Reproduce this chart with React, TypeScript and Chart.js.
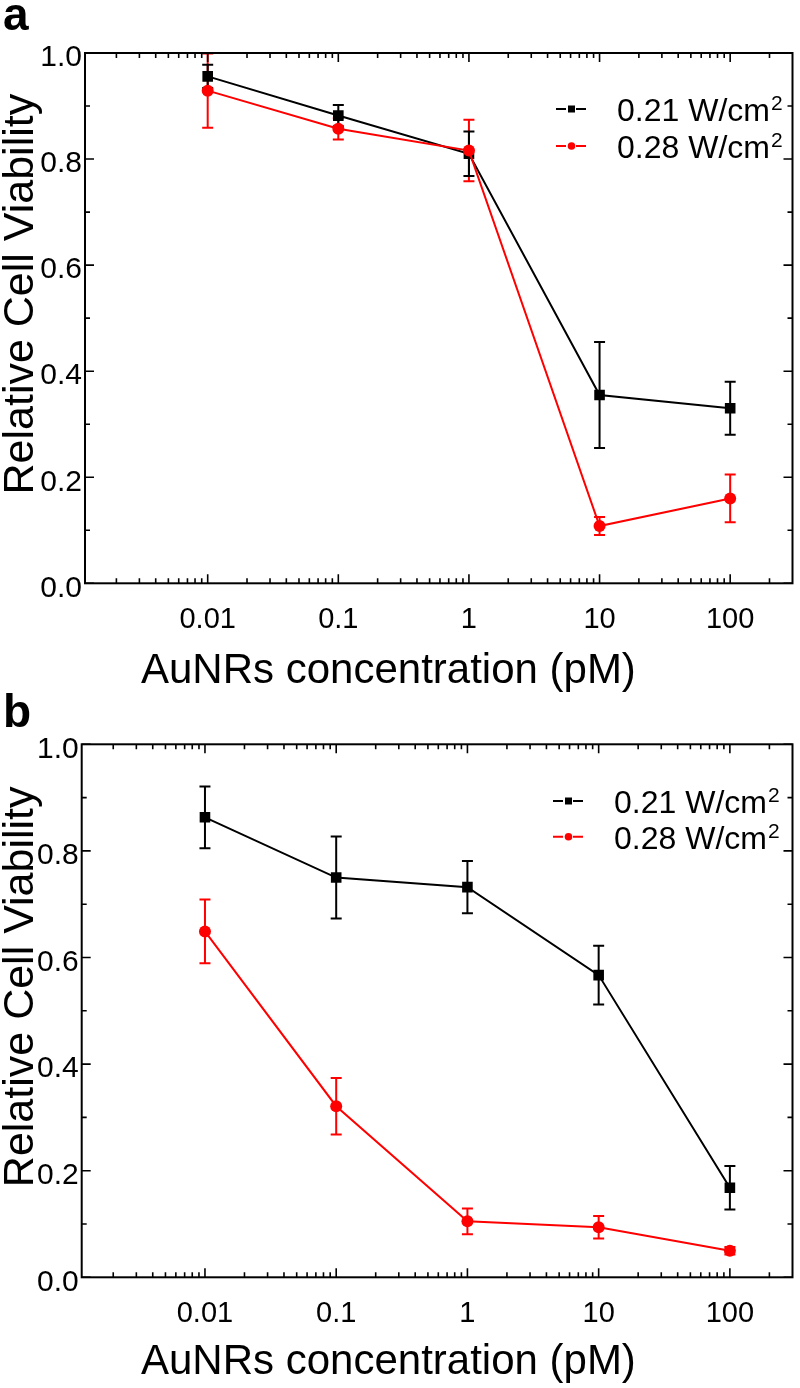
import React, { useEffect, useRef } from 'react';
import { Chart, registerables } from 'chart.js';

Chart.register(...registerables);

// ---- data ----
const concentrations = [0.01, 0.1, 1, 10, 100];
const xTickValues = [0.01, 0.1, 1, 10, 100];
const xTickLabels = ['0.01', '0.1', '1', '10', '100'];
const yTickValues = [0, 0.2, 0.4, 0.6, 0.8, 1.0];
const yTickLabels = ['0.0', '0.2', '0.4', '0.6', '0.8', '1.0'];
const yMinorTicks = [0.1, 0.3, 0.5, 0.7, 0.9];
const seriesLabels = ['0.21 W/cm²', '0.28 W/cm²'];
const seriesColors = ['#000000', '#ff0000'];
const seriesPointStyles = ['rect', 'circle'];
const xTitle = 'AuNRs concentration (pM)';
const yTitle = 'Relative Cell Viability';

const panelALow = [0.956, 0.882, 0.81, 0.355, 0.33];
const panelALowErr = [0.022, 0.02, 0.042, 0.1, 0.05];
const panelAHigh = [0.929, 0.857, 0.816, 0.108, 0.16];
const panelAHighErr = [0.07, 0.02, 0.058, 0.017, 0.045];

const panelBLow = [0.863, 0.75, 0.732, 0.567, 0.168];
const panelBLowErr = [0.058, 0.077, 0.049, 0.055, 0.041];
const panelBHigh = [0.649, 0.321, 0.105, 0.094, 0.05];
const panelBHighErr = [0.06, 0.053, 0.024, 0.021, 0.007];

const X_MIN = 0.00115;
const X_MAX = 300;
const FONT = '"Liberation Sans", Arial, sans-serif';

function minorLogTicks(): number[] {
  const out: number[] = [];
  for (let e = -3; e <= 2; e++) {
    for (let k = 2; k <= 9; k++) {
      const v = k * Math.pow(10, e);
      if (v > X_MIN && v < X_MAX) out.push(v);
    }
  }
  return out;
}

type PanelCfg = {
  letter: string;
  height: number;
  top: number;
  right: number;
  yWidth: number;
  xHeight: number;
  low: number[];
  lowErr: number[];
  high: number[];
  highErr: number[];
  legendY: number[];
  legendX: number;
  titleBaseline: number;
  letterBaseline: number;
};

const panelPlugin = {
  id: 'panelDecor',
  beforeDatasetsDraw(chart: any) {
    const ctx = chart.ctx;
    const xs = chart.scales.x;
    const ys = chart.scales.y;
    const order = [1, 0];
    ctx.save();
    order.forEach((di) => {
      const ds = chart.data.datasets[di];
      const errs: number[] = ds.errors;
      ctx.strokeStyle = ds.borderColor;
      ctx.lineWidth = 2;
      ds.data.forEach((p: any, i: number) => {
        const px = xs.getPixelForValue(p.x);
        const yTop = ys.getPixelForValue(p.y + errs[i]);
        const yBot = ys.getPixelForValue(p.y - errs[i]);
        ctx.beginPath();
        ctx.moveTo(px, yTop);
        ctx.lineTo(px, yBot);
        ctx.moveTo(px - 5.5, yTop);
        ctx.lineTo(px + 5.5, yTop);
        ctx.moveTo(px - 5.5, yBot);
        ctx.lineTo(px + 5.5, yBot);
        ctx.stroke();
      });
    });
    ctx.restore();
  },
  afterDraw(chart: any) {
    const ctx = chart.ctx;
    const ca = chart.chartArea;
    const xs = chart.scales.x;
    const ys = chart.scales.y;
    const cfg: PanelCfg = chart.options.plugins.panelDecor.cfg;
    ctx.save();
    // frame
    ctx.strokeStyle = '#000';
    ctx.lineWidth = 2;
    ctx.strokeRect(ca.left, ca.top, ca.right - ca.left, ca.bottom - ca.top);
    // ticks
    ctx.lineWidth = 1.6;
    ctx.beginPath();
    const majorLen = 9;
    const minorLen = 5;
    xs.ticks.forEach((t: any) => {
      const px = xs.getPixelForValue(t.value);
      ctx.moveTo(px, ca.bottom);
      ctx.lineTo(px, ca.bottom - majorLen);
      ctx.moveTo(px, ca.top);
      ctx.lineTo(px, ca.top + majorLen);
    });
    minorLogTicks().forEach((v) => {
      const px = xs.getPixelForValue(v);
      ctx.moveTo(px, ca.bottom);
      ctx.lineTo(px, ca.bottom - minorLen);
      ctx.moveTo(px, ca.top);
      ctx.lineTo(px, ca.top + minorLen);
    });
    ys.ticks.forEach((t: any) => {
      const py = ys.getPixelForValue(t.value);
      ctx.moveTo(ca.left, py);
      ctx.lineTo(ca.left + majorLen, py);
      ctx.moveTo(ca.right, py);
      ctx.lineTo(ca.right - majorLen, py);
    });
    yMinorTicks.forEach((v) => {
      const py = ys.getPixelForValue(v);
      ctx.moveTo(ca.left, py);
      ctx.lineTo(ca.left + minorLen, py);
      ctx.moveTo(ca.right, py);
      ctx.lineTo(ca.right - minorLen, py);
    });
    ctx.stroke();

    // legend
    chart.data.datasets.forEach((ds: any, i: number) => {
      const ly = cfg.legendY[i];
      const lx = cfg.legendX;
      ctx.strokeStyle = ds.borderColor;
      ctx.fillStyle = ds.borderColor;
      ctx.lineWidth = 2;
      ctx.beginPath();
      ctx.moveTo(lx, ly);
      ctx.lineTo(lx + 10, ly);
      ctx.moveTo(lx + 20, ly);
      ctx.lineTo(lx + 30, ly);
      ctx.stroke();
      if (ds.pointStyle === 'rect') {
        ctx.fillRect(lx + 12, ly - 3.5, 7, 7);
      } else {
        ctx.beginPath();
        ctx.arc(lx + 15.5, ly, 3.8, 0, Math.PI * 2);
        ctx.fill();
      }
      ctx.fillStyle = '#000';
      ctx.textAlign = 'left';
      ctx.textBaseline = 'alphabetic';
      const parts = String(ds.label).split('²');
      ctx.font = `32px ${FONT}`;
      const tx = lx + 61;
      const tb = ly + 12;
      ctx.fillText(parts[0], tx, tb);
      if (parts.length > 1) {
        const w = ctx.measureText(parts[0]).width;
        ctx.font = `21px ${FONT}`;
        ctx.fillText('2', tx + w + 1, tb - 11);
      }
    });

    // axis titles
    ctx.fillStyle = '#000';
    ctx.font = `42px ${FONT}`;
    ctx.textAlign = 'left';
    ctx.textBaseline = 'alphabetic';
    ctx.fillText(xTitle, 141, cfg.titleBaseline);

    ctx.save();
    ctx.font = `43px ${FONT}`;
    ctx.translate(33, (ca.top + ca.bottom) / 2 - 24);
    ctx.rotate(-Math.PI / 2);
    ctx.textAlign = 'center';
    ctx.textBaseline = 'alphabetic';
    ctx.fillText(yTitle, 0, 0);
    ctx.restore();

    // panel letter
    ctx.font = `bold 46px ${FONT}`;
    ctx.textAlign = 'left';
    ctx.textBaseline = 'alphabetic';
    ctx.fillText(cfg.letter, 3, cfg.letterBaseline);
    ctx.restore();
  },
};

function Panel({ cfg, top }: { cfg: PanelCfg; top: number }) {
  const ref = useRef<HTMLCanvasElement | null>(null);
  useEffect(() => {
    if (!ref.current) return;
    const mk = (ys: number[]) => concentrations.map((x, i) => ({ x, y: ys[i] }));
    const chart = new Chart(ref.current, {
      type: 'line',
      data: {
        datasets: [
          {
            label: seriesLabels[0],
            data: mk(cfg.low),
            errors: cfg.lowErr,
            borderColor: seriesColors[0],
            backgroundColor: seriesColors[0],
            pointStyle: seriesPointStyles[0],
            pointRadius: 7.5,
            pointBorderWidth: 0,
            borderWidth: 2,
            order: 2,
          } as any,
          {
            label: seriesLabels[1],
            data: mk(cfg.high),
            errors: cfg.highErr,
            borderColor: seriesColors[1],
            backgroundColor: seriesColors[1],
            pointStyle: seriesPointStyles[1],
            pointRadius: 6,
            pointBorderWidth: 0,
            borderWidth: 2,
            order: 1,
          } as any,
        ],
      },
      options: {
        responsive: false,
        animation: false,
        devicePixelRatio: 1,
        layout: { padding: { top: cfg.top, right: cfg.right, left: 0, bottom: 0 } },
        plugins: {
          legend: { display: false },
          tooltip: { enabled: false },
          panelDecor: { cfg },
        } as any,
        scales: {
          x: {
            type: 'logarithmic',
            min: X_MIN,
            max: X_MAX,
            position: 'bottom',
            grid: { display: false, drawTicks: false },
            border: { display: false },
            afterBuildTicks: (s: any) => {
              s.ticks = xTickValues.map((v) => ({ value: v, major: true }));
            },
            afterFit: (s: any) => {
              s.height = cfg.xHeight;
            },
            ticks: {
              autoSkip: false,
              maxRotation: 0,
              padding: 19,
              color: '#000',
              font: { family: FONT, size: 29 },
              callback: (_v: any, i: number) => xTickLabels[i],
            },
          },
          y: {
            type: 'linear',
            min: 0,
            max: 1,
            grid: { display: false, drawTicks: false },
            border: { display: false },
            afterBuildTicks: (s: any) => {
              s.ticks = yTickValues.map((v) => ({ value: v }));
            },
            afterFit: (s: any) => {
              s.width = cfg.yWidth;
            },
            ticks: {
              padding: 3,
              labelOffset: 5,
              color: '#000',
              font: { family: FONT, size: 30 },
              callback: (_v: any, i: number) => yTickLabels[i],
            },
          },
        },
      } as any,
      plugins: [panelPlugin],
    });
    return () => chart.destroy();
  }, [cfg]);
  return (
    <div style={{ position: 'absolute', left: 0, top, width: 800, height: cfg.height }}>
      <canvas ref={ref} width={800} height={cfg.height} style={{ display: 'block' }} />
    </div>
  );
}

const cfgA: PanelCfg = {
  letter: 'a',
  height: 700,
  top: 53,
  right: 2,
  yWidth: 85,
  xHeight: 116.7,
  low: panelALow,
  lowErr: panelALowErr,
  high: panelAHigh,
  highErr: panelAHighErr,
  legendY: [109, 146],
  legendX: 556,
  titleBaseline: 683,
  letterBaseline: 30,
};

const cfgB: PanelCfg = {
  letter: 'b',
  height: 698,
  top: 54.3,
  right: 2.3,
  yWidth: 81.7,
  xHeight: 110.7,
  low: panelBLow,
  lowErr: panelBLowErr,
  high: panelBHigh,
  highErr: panelBHighErr,
  legendY: [111, 146.7],
  legendX: 553,
  titleBaseline: 684,
  letterBaseline: 37,
};

export default function App() {
  return (
    <div style={{ position: 'absolute', left: 0, top: 0, width: 800, height: 1388, background: '#fff' }}>
      <Panel cfg={cfgA} top={0} />
      <Panel cfg={cfgB} top={690} />
    </div>
  );
}
